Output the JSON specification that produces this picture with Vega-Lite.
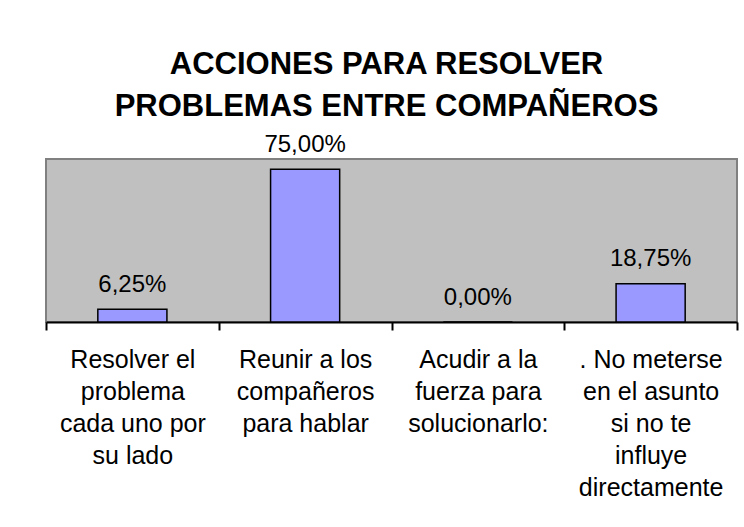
{
  "$schema": "https://vega.github.io/schema/vega-lite/v6.json",
  "autosize": "none",
  "width": 691,
  "height": 163,
  "padding": {"left": 46, "top": 159, "right": 7, "bottom": 205},
  "background": "white",
  "config": {
    "locale": {"number": {"decimal": ",", "thousands": ".", "grouping": [3], "currency": ["", " €"]}},
    "font": "Liberation Sans",
    "view": {"fill": "#C0C0C0", "stroke": "#808080", "strokeWidth": 2}
  },
  "title": {
    "text": ["ACCIONES PARA RESOLVER", "PROBLEMAS ENTRE COMPAÑEROS"],
    "font": "Liberation Sans",
    "fontSize": 31,
    "fontWeight": "bold",
    "color": "black",
    "lineHeight": 41.5,
    "anchor": "middle",
    "dx": -5,
    "offset": 10
  },
  "data": {
    "values": [
      {"accion": "Resolver el|problema|cada uno por|su lado", "orden": 1, "pct": 0.0625},
      {"accion": "Reunir a los|compañeros|para hablar", "orden": 2, "pct": 0.75},
      {"accion": "Acudir a la|fuerza para|solucionarlo:", "orden": 3, "pct": 0.0},
      {"accion": ". No meterse|en el asunto|si no te|influye|directamente", "orden": 4, "pct": 0.1875}
    ]
  },
  "encoding": {
    "x": {
      "field": "accion",
      "type": "nominal",
      "sort": {"field": "orden"},
      "scale": {"paddingInner": 0, "paddingOuter": 0},
      "axis": {
        "title": null,
        "labelAngle": 0,
        "labelExpr": "split(datum.label, '|')",
        "labelFont": "Liberation Sans",
        "labelFontSize": 25,
        "labelLineHeight": 32,
        "labelColor": "black",
        "labelLimit": 300,
        "labelPadding": 17,
        "labelBaseline": "top",
        "domainColor": "black",
        "domainWidth": 2,
        "tickColor": "black",
        "tickWidth": 2,
        "tickSize": 8,
        "tickBand": "extent",
        "grid": false
      }
    },
    "y": {
      "field": "pct",
      "type": "quantitative",
      "scale": {"domain": [0, 0.8], "nice": false},
      "axis": null
    }
  },
  "layer": [
    {
      "mark": {"type": "bar", "width": {"band": 0.4}, "fill": "#9999FF", "stroke": "black", "strokeWidth": 1.5}
    },
    {
      "mark": {"type": "text", "baseline": "alphabetic", "dy": -17.5, "fontSize": 24, "font": "Liberation Sans", "color": "black"},
      "encoding": {"text": {"field": "pct", "type": "quantitative", "format": ".2%"}}
    }
  ]
}
